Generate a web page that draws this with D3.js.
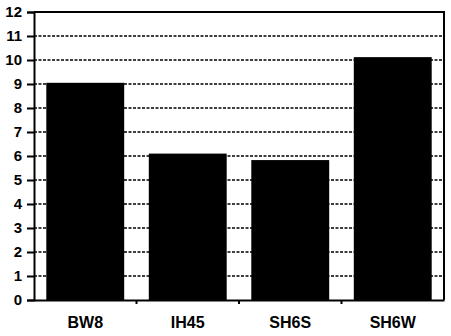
<!DOCTYPE html>
<html>
<head>
<meta charset="utf-8">
<script src="https://cdn.jsdelivr.net/npm/d3@7"></script>
<style>
  body { margin: 0; background: #fff; }
</style>
</head>
<body>
<div class="canvas"></div>
<script>
const sites = ["BW8", "IH45", "SH6S", "SH6W"];
const values = [9.05, 6.1, 5.83, 10.12];
const yTicks = [0, 1, 2, 3, 4, 5, 6, 7, 8, 9, 10, 11, 12];

const width = 451;
const height = 336;
const margin = { top: 12, right: 7, bottom: 36, left: 34 };

const svg = d3
  .select(".canvas")
  .append("svg")
  .attr("width", width)
  .attr("height", height);

const x = d3
  .scaleBand()
  .domain(sites)
  .range([margin.left, width - margin.right])
  .paddingInner(0.24)
  .paddingOuter(0.12);

const y = d3
  .scaleLinear()
  .domain([0, 12])
  .range([height - margin.bottom, margin.top]);

// gridlines
svg
  .append("g")
  .selectAll("line")
  .data(yTicks.filter((d) => d > 0 && d < 12))
  .enter()
  .append("line")
  .attr("x1", margin.left)
  .attr("x2", width - margin.right)
  .attr("y1", (d) => y(d))
  .attr("y2", (d) => y(d))
  .attr("stroke", "#000")
  .attr("stroke-width", 1.6)
  .attr("stroke-dasharray", "3,1.5");

// top and right border
svg
  .append("path")
  .attr(
    "d",
    `M${margin.left},${y(12)}H${width - margin.right}V${y(0)}`
  )
  .attr("fill", "none")
  .attr("stroke", "#000")
  .attr("stroke-width", 2);

// bars
svg
  .append("g")
  .selectAll("rect")
  .data(values)
  .enter()
  .append("rect")
  .attr("x", (d, i) => x(sites[i]))
  .attr("y", (d) => y(d))
  .attr("width", x.bandwidth())
  .attr("height", (d) => y(0) - y(d))
  .attr("fill", "#000");

// y axis
const yAxis = svg
  .append("g")
  .attr("transform", `translate(${margin.left},0)`)
  .call(d3.axisLeft(y).tickValues(yTicks).tickSize(7).tickPadding(5));

yAxis.select(".domain").attr("stroke-width", 2);
yAxis.selectAll(".tick line").attr("stroke-width", 2);
yAxis
  .selectAll("text")
  .attr("font-family", "Liberation Sans, Arial, sans-serif")
  .attr("font-weight", "bold")
  .attr("font-size", 15)
  .attr("fill", "#000");

// x axis
const xAxis = svg
  .append("g")
  .attr("transform", `translate(0,${y(0)})`)
  .call(d3.axisBottom(x).tickSize(0).tickPadding(17));

xAxis.select(".domain").attr("stroke-width", 2);
xAxis
  .selectAll("text")
  .attr("font-family", "Liberation Sans, Arial, sans-serif")
  .attr("font-weight", "bold")
  .attr("font-size", 16)
  .attr("fill", "#000");

// small ticks between categories
const step = x.step();
svg
  .append("g")
  .selectAll("line")
  .data(sites.slice(1))
  .enter()
  .append("line")
  .attr("x1", (d) => x(d) - (step - x.bandwidth()) / 2)
  .attr("x2", (d) => x(d) - (step - x.bandwidth()) / 2)
  .attr("y1", y(0))
  .attr("y2", y(0) + 4)
  .attr("stroke", "#000")
  .attr("stroke-width", 2);
</script>
</body>
</html>
